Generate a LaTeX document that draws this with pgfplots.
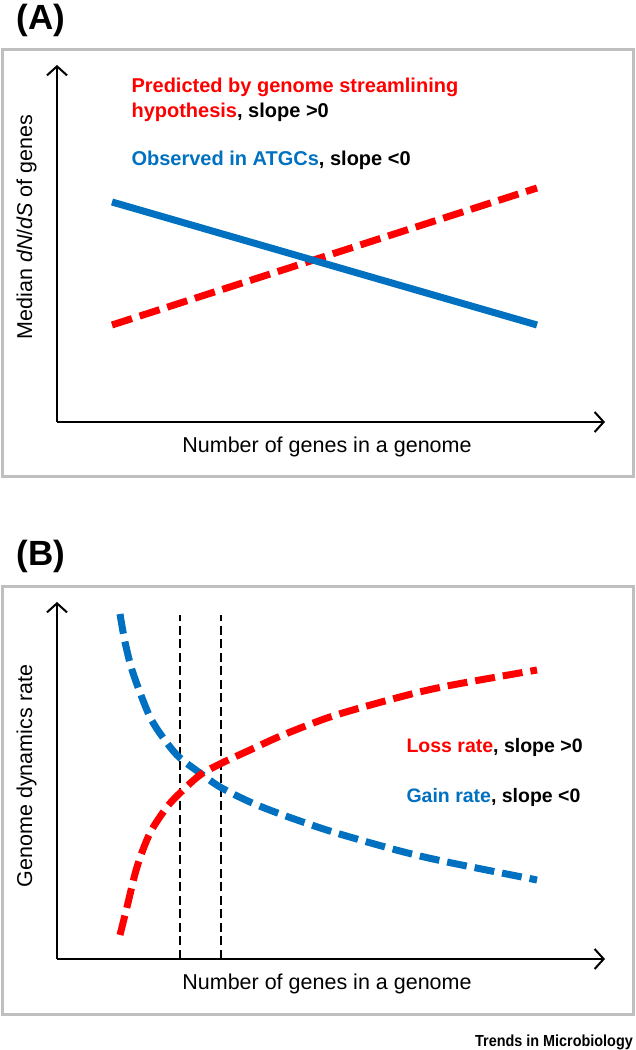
\documentclass[border=0pt]{standalone}
\usepackage{pgfplots}
\pgfplotsset{compat=1.18}
\usepackage{fontspec}
\setmainfont{Liberation Sans}
\usetikzlibrary{arrows.meta}
\definecolor{myblue}{RGB}{0,112,192}
\definecolor{myred}{RGB}{255,0,0}
\definecolor{boxgray}{RGB}{191,191,191}
\begin{document}
\begin{tikzpicture}[x=1pt,y=1pt]
\useasboundingbox (0,0) rectangle (636,1050);
% panel frames
\draw[boxgray, line width=3pt] (2,1000) rectangle (633,573);
\draw[boxgray, line width=3pt] (2,463) rectangle (633,35);
% panel titles
\node[anchor=west, font=\fontsize{35}{40}\selectfont\bfseries] at (13,1030) {(A)};
\node[anchor=west, font=\fontsize{35}{40}\selectfont\bfseries] at (13,494) {(B)};
\pgfplotsset{
  myaxis/.style={
    x=1pt, y=1pt, xmin=0, xmax=548, ymin=0, ymax=357,
    axis lines=left, ticks=none, clip=false, enlargelimits=false,
    axis line style={line width=2pt, -{Straight Barb[length=9pt,width=20pt,line width=2pt]}},
    anchor=south west,
  }
}
% Panel A
\begin{axis}[myaxis, at={(57,628)}]
\addplot[myred, line width=7pt, dash pattern=on 21pt off 8pt, line cap=butt] coordinates {(55,97) (480,234)};
\addplot[myblue, line width=7pt] coordinates {(55,220) (480,97)};
\end{axis}
\node[anchor=base west, font=\fontsize{20}{24}\selectfont\bfseries, text=myred] at (128,957) {Predicted by genome streamlining};
\node[anchor=base west, font=\fontsize{20}{24}\selectfont\bfseries] at (128,932) {\textcolor{myred}{hypothesis}, slope >0};
\node[anchor=base west, font=\fontsize{20}{24}\selectfont\bfseries] at (128,884) {\textcolor{myblue}{Observed in ATGCs}, slope <0};
\node[anchor=base, font=\fontsize{21.5}{25}\selectfont] at (327,597) {Number of genes in a genome};
\node[anchor=base, rotate=90, font=\fontsize{21.5}{25}\selectfont] at (32,823) {Median \textit{dN}/\textit{dS} of genes};
% Panel B
\begin{axis}[myaxis, at={(57,91)}]
\addplot[black, line width=2.8pt, dash pattern=on 9pt off 4.5pt] coordinates {(123,0) (123,344)};
\addplot[black, line width=2.8pt, dash pattern=on 9pt off 4.5pt] coordinates {(164,0) (164,344)};
\addplot[myblue, line width=7pt, dash pattern=on 20pt off 8pt, smooth] coordinates {
(63,345) (68,317) (76,286) (93,242) (110,216) (123,201) (143,186) (163,172) (193,157) (226,144) (276,127) (343,108) (390,97) (480,79)};
\addplot[myred, line width=7pt, dash pattern=on 20pt off 8pt, smooth] coordinates {
(63,24) (70,52) (80,92) (93,126) (110,152) (123,166) (143,184) (165,196) (193,209) (226,224) (276,243) (343,262) (390,273) (480,289)};
\end{axis}
\node[anchor=base west, font=\fontsize{19.5}{24}\selectfont\bfseries] at (403,297) {\textcolor{myred}{Loss rate}, slope >0};
\node[anchor=base west, font=\fontsize{19.5}{24}\selectfont\bfseries] at (403,247) {\textcolor{myblue}{Gain rate}, slope <0};
\node[anchor=base, font=\fontsize{21.5}{25}\selectfont] at (327,60) {Number of genes in a genome};
\node[anchor=base, rotate=90, font=\fontsize{21.5}{25}\selectfont] at (32,274) {Genome dynamics rate};
% footer
\node[anchor=base east, font=\fontsize{16}{18}\selectfont\bfseries, inner sep=0pt] at (633,3) {\scalebox{0.9}[1]{Trends in Microbiology}};
\end{tikzpicture}
\end{document}
